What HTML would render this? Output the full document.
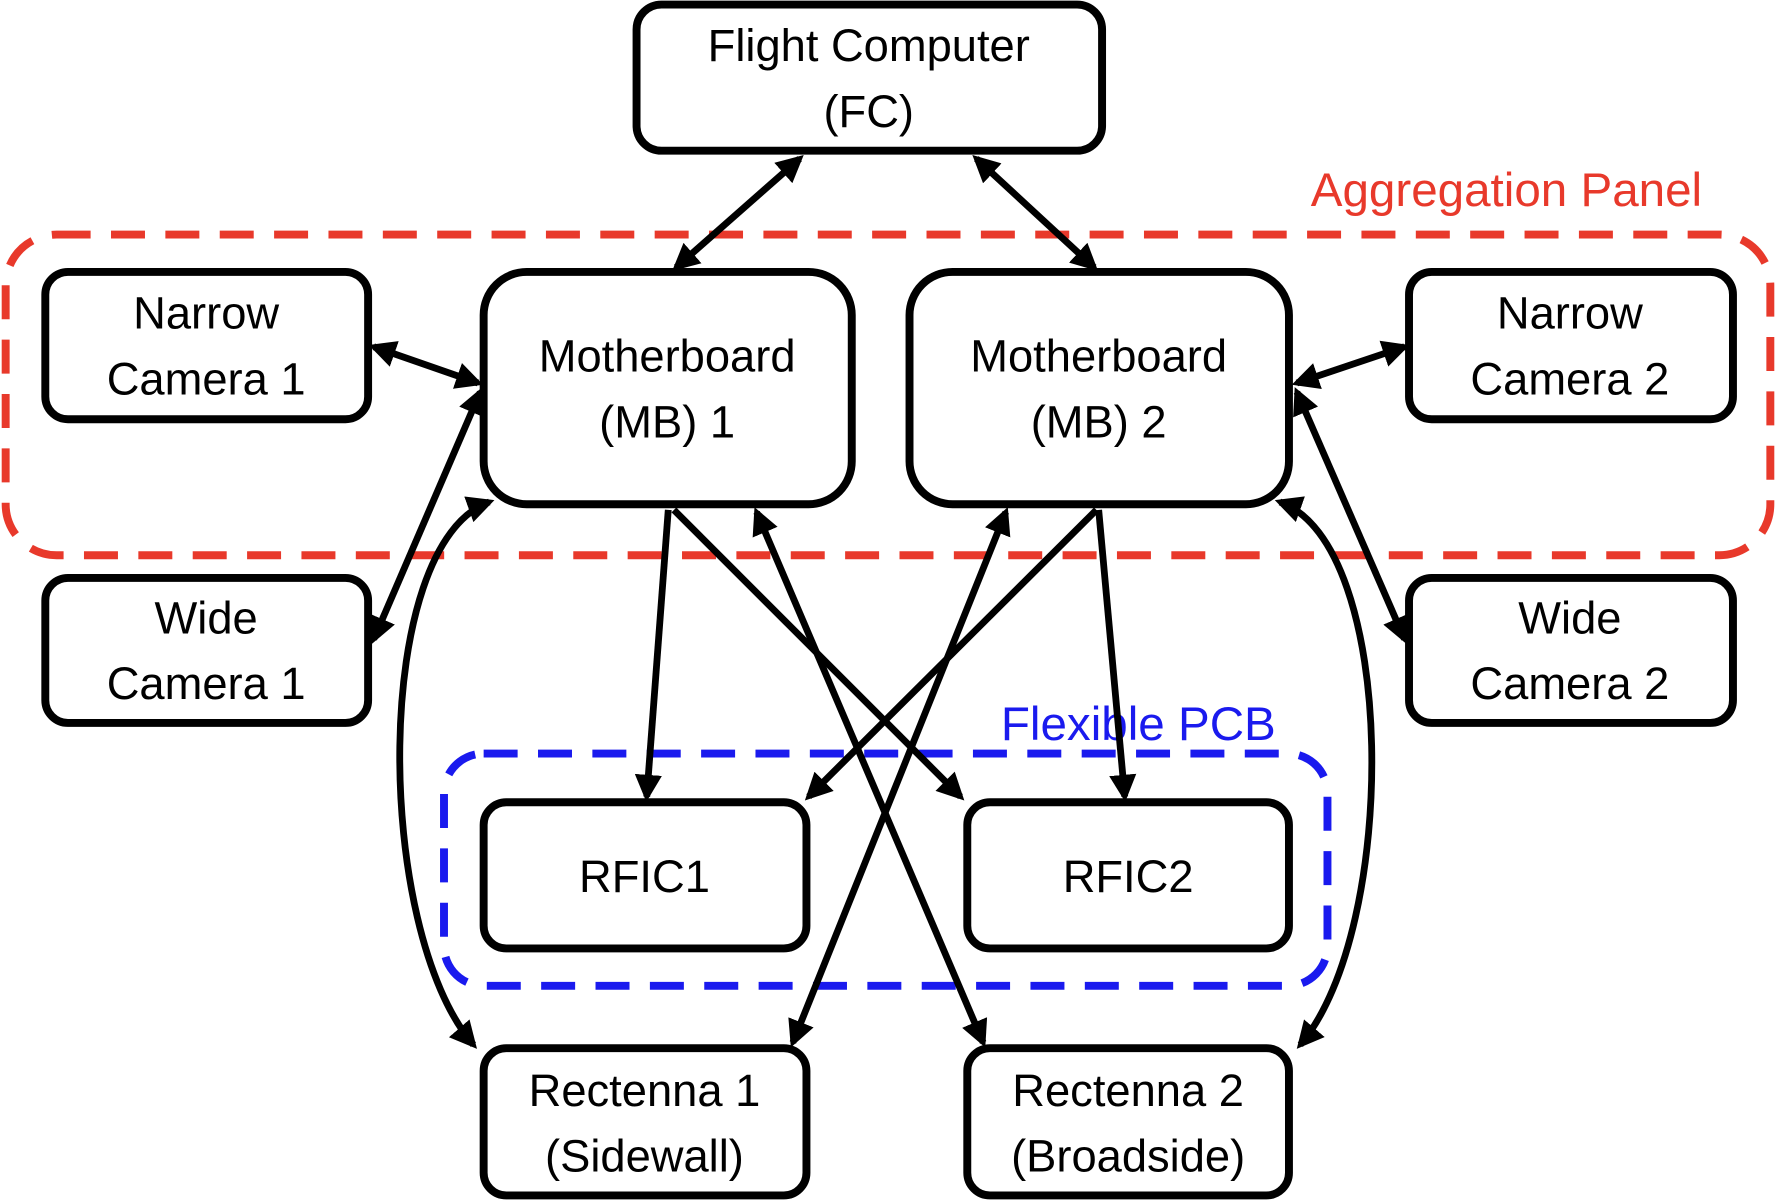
<!DOCTYPE html>
<html><head><meta charset="utf-8"><style>
html,body{margin:0;padding:0;background:#fff;width:1776px;height:1200px;overflow:hidden}
svg{display:block}
text{font-family:"Liberation Sans",sans-serif;font-size:40px;text-anchor:middle;fill:#000}
</style></head><body>
<svg width="1776" height="1200" viewBox="0 0 1568 1059" preserveAspectRatio="none" xmlns="http://www.w3.org/2000/svg">
<defs>
<marker id="a" viewBox="0 0 10 10" refX="8" refY="5" markerWidth="4" markerHeight="4" orient="auto-start-reverse" markerUnits="strokeWidth">
<path d="M0,0 L10,5 L0,10 z" fill="#000"/></marker>
</defs>
<rect x="5" y="207" width="1558" height="283" rx="45" fill="none" stroke="#e8392b" stroke-width="7" stroke-dasharray="30,18"/>
<text x="1330" y="182" style="fill:#e8392b;font-size:42px">Aggregation Panel</text>
<rect x="392" y="665" width="780" height="205" rx="35" fill="none" stroke="#1a1aee" stroke-width="7" stroke-dasharray="30,18"/>
<text x="1005" y="653" style="fill:#1a1aee;font-size:42px">Flexible PCB</text>

<g fill="#fff" stroke="#000" stroke-width="7">
<rect x="562" y="4" width="411" height="129" rx="22"/>
<rect x="40" y="240" width="285" height="130" rx="20"/>
<rect x="427" y="240" width="325" height="205" rx="38"/>
<rect x="803" y="240" width="335" height="205" rx="38"/>
<rect x="1244" y="240" width="286" height="130" rx="20"/>
<rect x="40" y="510" width="285" height="128" rx="20"/>
<rect x="1244" y="510" width="286" height="128" rx="20"/>
<rect x="427" y="708" width="285" height="129" rx="20"/>
<rect x="854" y="708" width="284" height="129" rx="20"/>
<rect x="427" y="925" width="285" height="130" rx="20"/>
<rect x="854" y="925" width="284" height="130" rx="20"/>
</g>

<g stroke="#000" stroke-width="6" fill="none">
<line x1="706" y1="140" x2="597" y2="236" marker-start="url(#a)" marker-end="url(#a)"/>
<line x1="862" y1="140" x2="966" y2="236" marker-start="url(#a)" marker-end="url(#a)"/>
<line x1="330" y1="306" x2="422" y2="338" marker-start="url(#a)" marker-end="url(#a)"/>
<line x1="330" y1="564" x2="424" y2="346" marker-start="url(#a)" marker-end="url(#a)"/>
<path d="M432,443 C328,480 330,820 418,922" marker-start="url(#a)" marker-end="url(#a)"/>
<line x1="590" y1="450" x2="571" y2="703" marker-end="url(#a)"/>
<line x1="595" y1="450" x2="848" y2="703" marker-end="url(#a)"/>
<line x1="668" y1="452" x2="868" y2="920" marker-start="url(#a)" marker-end="url(#a)"/>
<line x1="888" y1="452" x2="700" y2="920" marker-start="url(#a)" marker-end="url(#a)"/>
<line x1="968" y1="450" x2="714" y2="703" marker-end="url(#a)"/>
<line x1="970" y1="450" x2="993" y2="703" marker-end="url(#a)"/>
<path d="M1130,443 C1235,480 1235,820 1148,922" marker-start="url(#a)" marker-end="url(#a)"/>
<line x1="1240" y1="306" x2="1145" y2="338" marker-start="url(#a)" marker-end="url(#a)"/>
<line x1="1240" y1="564" x2="1145" y2="346" marker-start="url(#a)" marker-end="url(#a)"/>
</g>

<text x="767" y="54">Flight Computer</text>
<text x="767" y="112">(FC)</text>
<text x="182" y="290">Narrow</text>
<text x="182" y="348">Camera 1</text>
<text x="589" y="328">Motherboard</text>
<text x="589" y="386">(MB) 1</text>
<text x="970" y="328">Motherboard</text>
<text x="970" y="386">(MB) 2</text>
<text x="1386" y="290">Narrow</text>
<text x="1386" y="348">Camera 2</text>
<text x="182" y="559">Wide</text>
<text x="182" y="617">Camera 1</text>
<text x="1386" y="559">Wide</text>
<text x="1386" y="617">Camera 2</text>
<text x="569" y="787">RFIC1</text>
<text x="996" y="787">RFIC2</text>
<text x="569" y="976">Rectenna 1</text>
<text x="569" y="1034">(Sidewall)</text>
<text x="996" y="976">Rectenna 2</text>
<text x="996" y="1034">(Broadside)</text>
</svg>
</body></html>
